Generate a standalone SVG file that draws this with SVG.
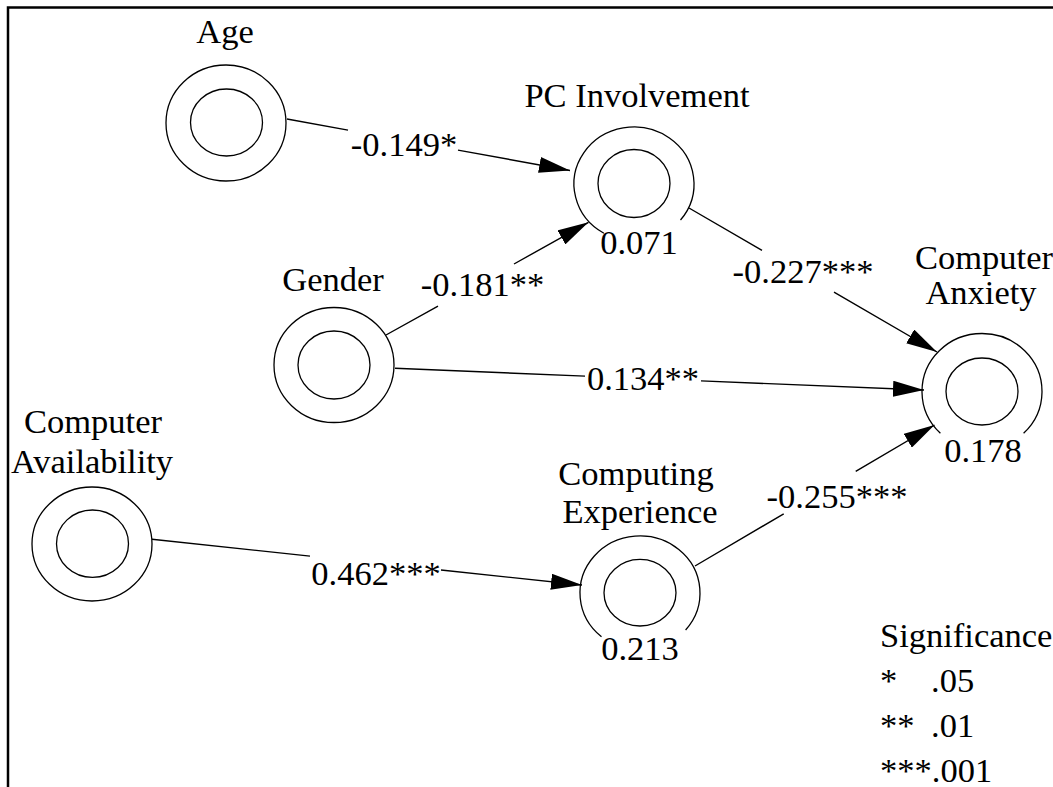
<svg xmlns="http://www.w3.org/2000/svg" width="1053" height="787" viewBox="0 0 1053 787">
<style>
.ring{fill:none;stroke:#000;stroke-width:1.3}
.edge{fill:none;stroke:#000;stroke-width:1.4}
.t{font-family:"Liberation Serif","Times New Roman",serif;font-size:34.5px;fill:#000;text-anchor:middle}
.s{font-family:"Liberation Serif","Times New Roman",serif;font-size:34.5px;fill:#000}
.frame{fill:none;stroke:#000;stroke-width:2.5}
</style>
<defs>
<marker id="arr" markerUnits="userSpaceOnUse" markerWidth="32" markerHeight="16" refX="31" refY="8" orient="auto">
<path d="M0,0 L31,8 L0,16 Z" fill="#000"/>
</marker>
</defs>
<rect width="1053" height="787" fill="#fff"/>
<path class="frame" d="M8,787 L8,7.5 L1053,7.5"/>

<g id="connectors">
<path class="edge" marker-end="url(#arr)" d="M287,119 L348,130.1 M458,150.1 L570,170.5"/>
<path class="edge" marker-end="url(#arr)" d="M386,335 L438,306.1 M514,264 L588.5,222.3"/>
<path class="edge" marker-end="url(#arr)" d="M689,208 L762,250.4 M834,292.2 L937,352"/>
<path class="edge" marker-end="url(#arr)" d="M395,368.3 L585,376.1 M701,380.9 L924,390"/>
<path class="edge" marker-end="url(#arr)" d="M152,539.3 L310,556.1 M441,570 L582,585"/>
<path class="edge" marker-end="url(#arr)" d="M695,566 L783.7,513.8 M855.7,471.4 L934.5,425"/>
<text class="t" x="404" y="156">-0.149*</text>
<text class="t" x="482.5" y="296">-0.181**</text>
<text class="t" x="803" y="283">-0.227***</text>
<text class="t" x="643" y="390">0.134**</text>
<text class="t" x="376" y="585">0.462***</text>
<text class="t" x="837" y="508">-0.255***</text>
</g>

<g id="age">
<ellipse class="ring" cx="226" cy="123" rx="60" ry="58"/>
<ellipse class="ring" cx="226.5" cy="122.5" rx="36" ry="33.5"/>
<text class="t" x="225" y="43">Age</text>
</g>

<g id="pc-involvement">
<path class="ring" d="M680.5,220 A60,57 0 1 0 603.9,233.3"/>
<ellipse class="ring" cx="634" cy="183.5" rx="36" ry="34"/>
<text class="t" x="637" y="107">PC Involvement</text>
<text class="t" x="639" y="254">0.071</text>
</g>

<g id="computer-anxiety">
<path class="ring" d="M1023.6,433.3 A60,58 0 1 0 940.4,433.3"/>
<ellipse class="ring" cx="982" cy="391.5" rx="36" ry="33.5"/>
<text class="t" x="984" y="269">Computer</text>
<text class="t" x="981" y="304">Anxiety</text>
<text class="t" x="983" y="462">0.178</text>
</g>

<g id="gender">
<ellipse class="ring" cx="334" cy="365" rx="60" ry="57.5"/>
<ellipse class="ring" cx="334" cy="365" rx="36" ry="34"/>
<text class="t" x="333" y="291">Gender</text>
</g>

<g id="computer-availability">
<ellipse class="ring" cx="92" cy="544" rx="60" ry="57"/>
<ellipse class="ring" cx="92.5" cy="543.7" rx="36" ry="33.7"/>
<text class="t" x="93" y="433">Computer</text>
<text class="t" x="92" y="472.5">Availability</text>
</g>

<g id="computing-experience">
<path class="ring" d="M685.6,630 A60,57 0 1 0 601.5,636.7"/>
<ellipse class="ring" cx="640" cy="592.7" rx="36" ry="33.3"/>
<text class="t" x="636" y="485">Computing</text>
<text class="t" x="640" y="523">Experience</text>
<text class="t" x="640" y="660">0.213</text>
</g>

<g id="legend">
<text class="s" x="880" y="647">Significance</text>
<text class="s" y="692"><tspan x="880">*</tspan><tspan x="931">.05</tspan></text>
<text class="s" y="737"><tspan x="880">**</tspan><tspan x="931">.01</tspan></text>
<text class="s" x="880" y="782">***.001</text>
</g>
</svg>
